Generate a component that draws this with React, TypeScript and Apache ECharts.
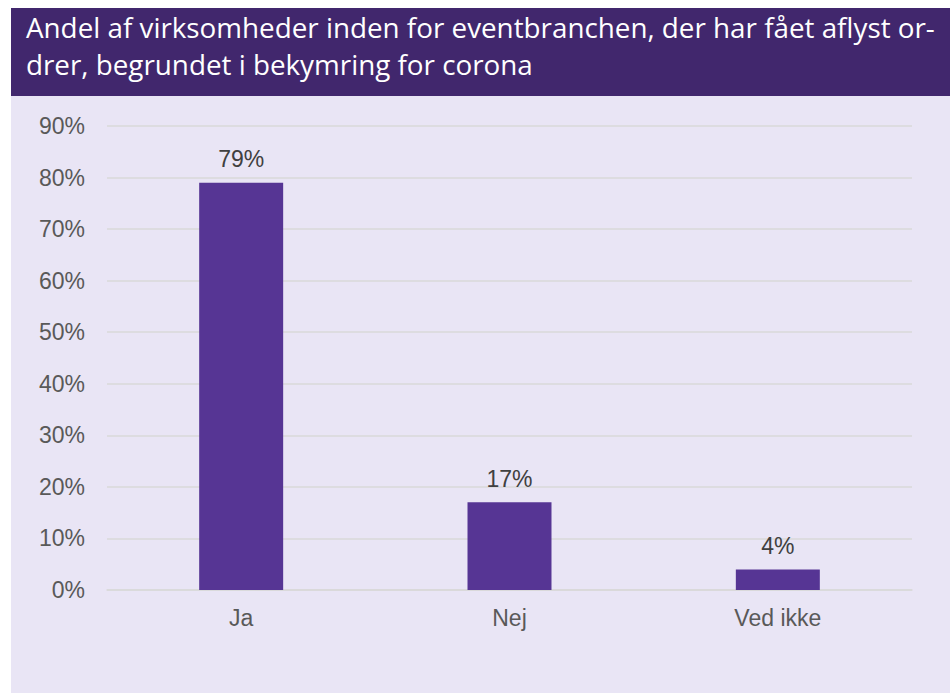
import React, { useEffect, useRef } from "react";
import * as echarts from "echarts";

const categories = ["Ja", "Nej", "Ved ikke"];
const values = [79, 17, 4];
const titleLines = [
  "Andel af virksomheder inden for eventbranchen, der har fået aflyst or-",
  "drer, begrundet i bekymring for corona",
];

export default function App() {
  const ref = useRef<HTMLDivElement>(null);
  useEffect(() => {
    const chart = echarts.init(ref.current!, null, { renderer: "svg" });
    chart.setOption({
      animation: false,
      graphic: [
        { type: "rect", z: -10, shape: { x: 11, y: 96, width: 939, height: 597 }, style: { fill: "#e9e5f5" }, silent: true },
        { type: "rect", z: -10, shape: { x: 11, y: 8, width: 939, height: 88 }, style: { fill: "#41276d" }, silent: true },
        {
          type: "text",
          left: 26,
          top: 8,
          style: {
            text: titleLines.join("\n"),
            fill: "#ffffff",
            font: '27.8px "Open Sans", "Noto Sans", sans-serif',
            lineHeight: 37,
          },
        },
      ],
      grid: { left: 107, right: 38, top: 126, bottom: 103 },
      xAxis: {
        type: "category",
        data: categories,
        axisTick: { show: false },
        axisLine: { lineStyle: { color: "#d9d9d9", width: 1.5 } },
        axisLabel: { color: "#595959", fontSize: 23, fontFamily: "Liberation Sans, Arial, sans-serif", margin: 16 },
      },
      yAxis: {
        type: "value",
        min: 0,
        max: 90,
        interval: 10,
        axisLabel: { formatter: "{value}%", color: "#595959", fontSize: 23, fontFamily: "Liberation Sans, Arial, sans-serif", margin: 22 },
        splitLine: { lineStyle: { color: "#d9d9d9", width: 1.5 } },
        axisLine: { show: false },
        axisTick: { show: false },
      },
      series: [
        {
          type: "bar",
          data: values,
          barWidth: "31.3%",
          itemStyle: { color: "#563594" },
          label: {
            show: true,
            position: "top",
            distance: 12,
            formatter: "{c}%",
            color: "#404040",
            fontSize: 23,
            fontFamily: "Liberation Sans, Arial, sans-serif",
          },
        },
      ],
    });
    return () => chart.dispose();
  }, []);
  return <div ref={ref} style={{ position: "absolute", left: 0, top: 0, width: 950, height: 693 }} />;
}
